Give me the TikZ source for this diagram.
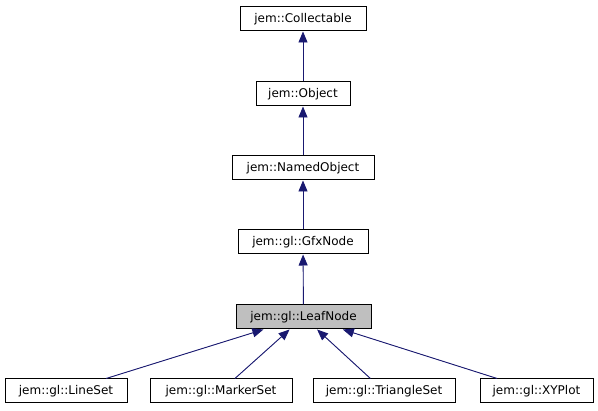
\documentclass[tikz,border=0pt]{standalone}
\usepackage{fontspec}
\setmainfont{DejaVu Sans}
\usetikzlibrary{arrows.meta}

\definecolor{edgeblue}{HTML}{191970}

\begin{document}
\begin{tikzpicture}[
    x=1pt, y=-1pt,
    cls/.style={rectangle, draw=black, line width=1pt, minimum height=24pt, inner sep=0pt, font=\fontsize{12}{14}\selectfont},
    arrow/.style={-{Triangle[length=11pt,width=9pt]}, draw=edgeblue, fill=edgeblue, line width=0.9pt}
  ]
  \useasboundingbox (0,0) rectangle (598,411);

  % Cadena de herencia
  \node[cls, minimum width=126pt] (collectable) at (303,19) {jem::Collectable};
  \node[cls, minimum width=94pt] (object) at (303,94) {jem::Object};
  \node[cls, minimum width=142pt] (namedobject) at (303,168) {jem::NamedObject};
  \node[cls, minimum width=130pt] (gfxnode) at (303,242) {jem::gl::GfxNode};
  \node[cls, minimum width=135pt, fill=black!25] (leafnode) at (303.5,317) {jem::gl::LeafNode};

  % Clases derivadas
  \node[cls, minimum width=122pt] (lineset) at (66,391) {jem::gl::LineSet};
  \node[cls, minimum width=142pt] (markerset) at (221,391) {jem::gl::MarkerSet};
  \node[cls, minimum width=142pt] (triangleset) at (384,391) {jem::gl::TriangleSet};
  \node[cls, minimum width=113pt] (xyplot) at (536.5,391) {jem::gl::XYPlot};

  % Flechas hacia la clase base
  \draw[arrow] (object) -- (collectable);
  \draw[arrow] (namedobject) -- (object);
  \draw[arrow] (gfxnode) -- (namedobject);
  \draw[arrow] (leafnode) -- (gfxnode);
  \draw[arrow] (lineset) -- (leafnode);
  \draw[arrow] (markerset) -- (leafnode);
  \draw[arrow] (triangleset) -- (leafnode);
  \draw[arrow] (xyplot) -- (leafnode);
\end{tikzpicture}
\end{document}
